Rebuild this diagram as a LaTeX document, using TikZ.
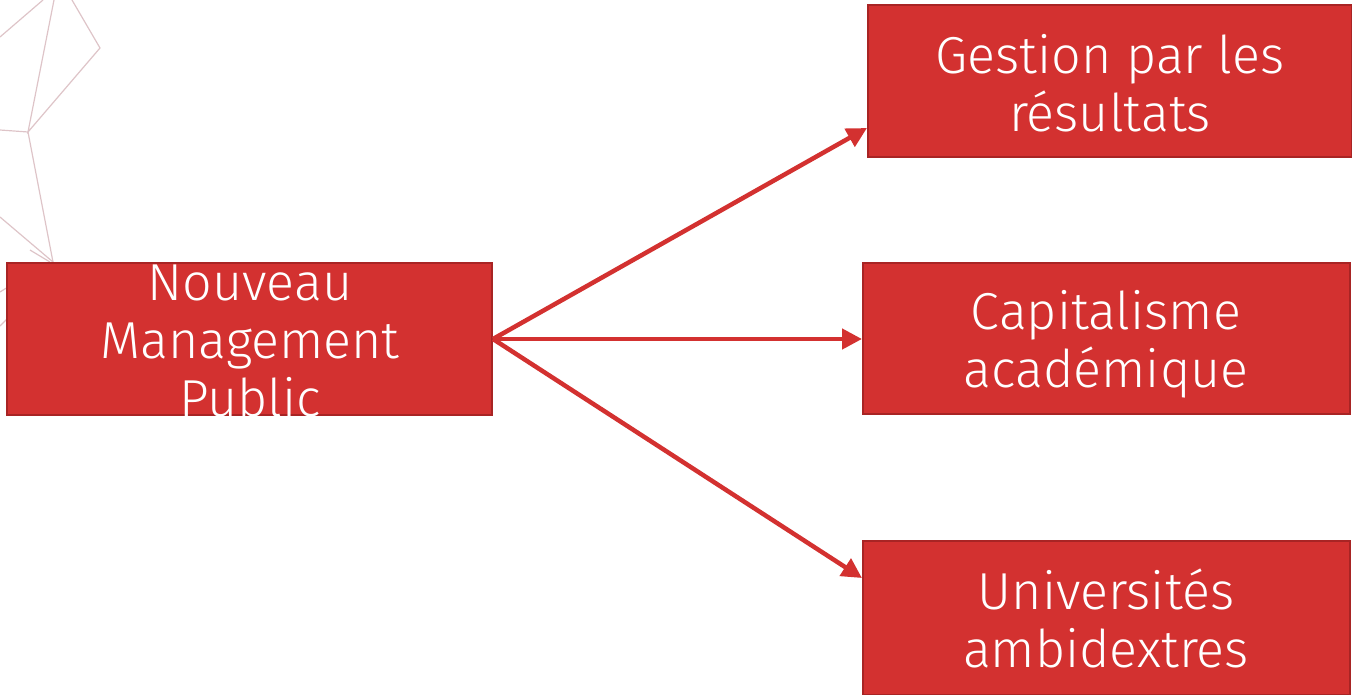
\documentclass[tikz,border=0pt]{standalone}
\usepackage{fontspec}
\setmainfont{Fira Sans Light}
\usetikzlibrary{arrows.meta}
\definecolor{boxred}{RGB}{211,49,48}
\definecolor{boxedge}{RGB}{168,36,36}
\definecolor{facet}{RGB}{222,196,200}
\tikzset{
  redbox/.style={draw=boxedge, line width=2pt, fill=boxred, rectangle, inner sep=0pt},
  boxtext/.style={text=white, align=center, font=\fontsize{52}{58}\selectfont, inner sep=0pt},
  link/.style={draw=boxred, line width=4.5pt, -{Triangle[length=20pt,width=20pt]}},
  facetline/.style={draw=facet, line width=1.2pt}
}
\begin{document}
\begin{tikzpicture}[x=1pt, y=-1pt]
\useasboundingbox (0,0) rectangle (1352,694);
% faceted ornament in the upper left corner
\draw[facetline] (0,37) -- (43,0);
\draw[facetline] (54,0) -- (28,132) -- (100,48) -- (72,0);
\draw[facetline] (0,130) -- (28,132) -- (53,262);
\draw[facetline] (0,217) -- (53,262);
\draw[facetline] (30,250) -- (50,262);
\draw[facetline] (0,292) -- (8,287);
\draw[facetline] (0,326) -- (8,318);
% boxes
\node[redbox, minimum width=485pt, minimum height=152pt] (nmp) at (249.5,339) {};
\node[redbox, minimum width=484pt, minimum height=152pt] (gest) at (1110,81) {};
\node[redbox, minimum width=487pt, minimum height=151pt] (capi) at (1106.5,338.5) {};
\node[redbox, minimum width=487pt, minimum height=154pt] (univ) at (1106.5,618) {};
% labels
\node[boxtext] (nmpt) at (250,341) {Nouveau\\Management\\Public};
\node[boxtext] (gestt) at (1110,83) {Gestion par les\\résultats};
\node[boxtext] (capit) at (1106,344) {Capitalisme\\académique};
\node[boxtext] (univt) at (1106,618) {Universités\\ambidextres};
% connectors
\draw[link] (nmp.east) -- ([yshift=-47pt]gest.west);
\draw[link] (nmp.east) -- (capi.west |- nmp.east);
\draw[link] (nmp.east) -- ([yshift=40pt]univ.west);
\end{tikzpicture}
\end{document}
